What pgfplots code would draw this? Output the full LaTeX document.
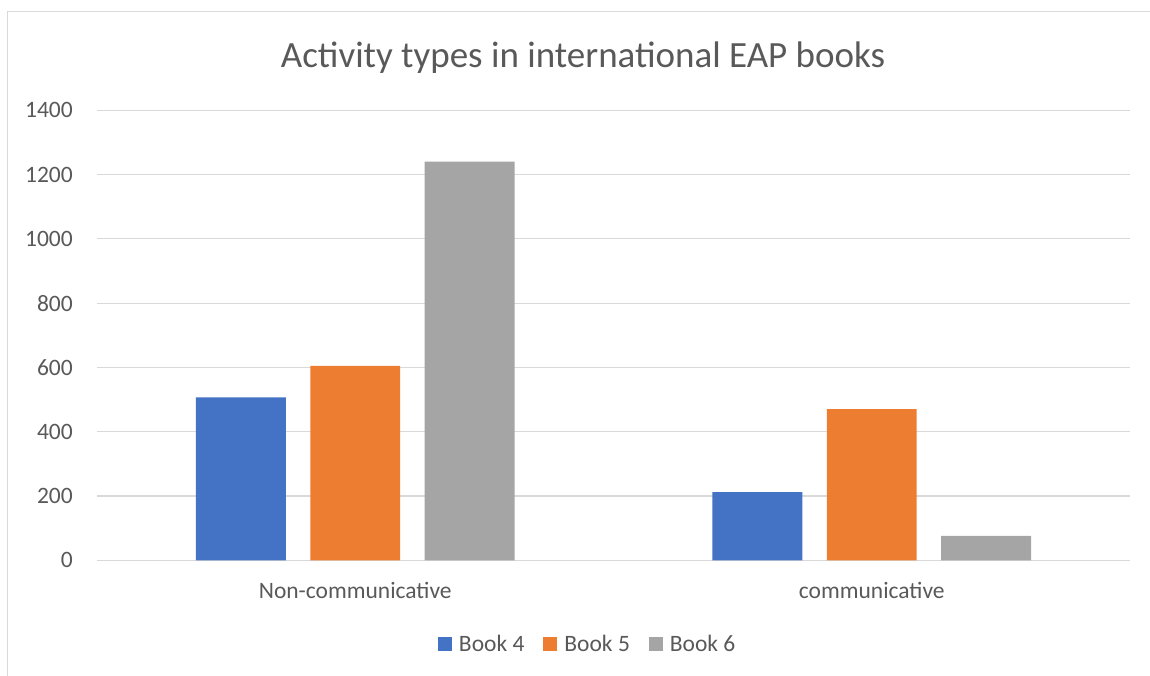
\documentclass[border=0pt]{standalone}
\usepackage{pgfplots}
\pgfplotsset{compat=1.18}
\usepackage{fontspec}
\setmainfont{Carlito}
\definecolor{bookblue}{HTML}{4472C4}
\definecolor{bookorange}{HTML}{ED7D31}
\definecolor{bookgray}{HTML}{A5A5A5}
\definecolor{textgray}{HTML}{595959}
\definecolor{gridgray}{HTML}{D9D9D9}
\pgfplotsset{sqlegend/.style={legend image code/.code={\fill[##1,draw=none] (0pt,-7pt) rectangle (14pt,7pt);}}}
\begin{document}
\begin{tikzpicture}
\useasboundingbox (0pt,0pt) rectangle (1150pt,676pt);
\draw[gridgray, line width=1.2pt] (7.5pt,0pt) -- (7.5pt,664.5pt) -- (1150pt,664.5pt);
\node[anchor=base, font=\fontsize{37}{44}\selectfont, text=textgray] at (583pt,608pt) {Activity types in international EAP books};
\begin{axis}[
  at={(97pt,115.7pt)}, anchor=south west,
  scale only axis, width=1033pt, height=450pt,
  xmin=-0.5, xmax=1.5, ymin=0, ymax=1400,
  xtick={0,1}, xticklabels={Non-communicative, communicative},
  ytick={0,200,400,600,800,1000,1200,1400},
  yticklabels={0,200,400,600,800,1000,1200,1400},
  ymajorgrids, grid style={draw=gridgray, line width=1.2pt},
  axis line style={draw=none},
  major tick length=0pt,
  tick label style={font=\fontsize{23.5}{28}\selectfont, text=textgray},
  yticklabel style={inner sep=0pt, xshift=-24pt},
  xticklabel style={inner sep=0pt, anchor=base, yshift=-38pt},
  legend columns=3,
  legend style={draw=none, at={(0.475,-0.186)}, anchor=center,
    font=\fontsize{23.5}{28}\selectfont, text=textgray,
    /tikz/every odd column/.append style={column sep=5pt},
    /tikz/every even column/.append style={column sep=17pt}},
]
\addplot[ybar, bar width=0.174, bar shift=-0.2215, fill=bookblue, draw=none, sqlegend] coordinates {(0,507) (1,212)};
\addplot[ybar, bar width=0.174, bar shift=0, fill=bookorange, draw=none, sqlegend] coordinates {(0,605) (1,470)};
\addplot[ybar, bar width=0.174, bar shift=0.2215, fill=bookgray, draw=none, sqlegend] coordinates {(0,1240) (1,76)};
\legend{Book 4, Book 5, Book 6}
\end{axis}
\end{tikzpicture}
\end{document}
